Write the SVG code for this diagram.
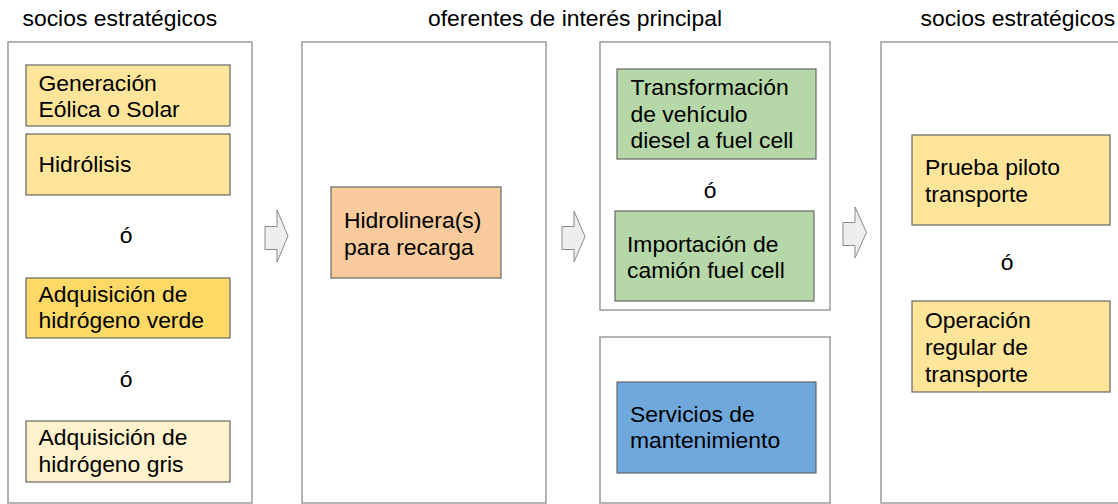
<svg xmlns="http://www.w3.org/2000/svg" width="1118" height="504" viewBox="0 0 1118 504">
<style>
text{font-family:"Liberation Sans",Arial,sans-serif;font-size:22.9px;fill:#000}
.outer{fill:#fff;stroke:#9a9a9a;stroke-width:1.5}
.n{stroke:#666;stroke-width:1.2}
.y{fill:#ffe599}.yv{fill:#ffd966}.yg{fill:#fff2cc}.g{fill:#b6d7a8}.o{fill:#f9cb9c}.b{fill:#6fa8dc}
.arr{fill:#eeeeee;stroke:#8a8a8a;stroke-width:1}
.c{text-anchor:middle}
</style>
<rect width="1118" height="504" fill="#fff"/>
<g id="headers">
<text x="22.5" y="26">socios estratégicos</text>
<text x="575" y="26" class="c">oferentes de interés principal</text>
<text x="920.5" y="26">socios estratégicos</text>
</g>
<g id="col1"><rect class="outer" x="8" y="42" width="244" height="461"/></g>
<g id="col2"><rect class="outer" x="302" y="42" width="244" height="461"/></g>
<g id="col3a"><rect class="outer" x="600" y="42" width="230" height="268"/></g>
<g id="col3b"><rect class="outer" x="600" y="337" width="230" height="166"/></g>
<g id="col4"><rect class="outer" x="881" y="42" width="240" height="461"/></g>
<g id="generacion"><rect class="n y" x="26" y="65" width="204" height="61"/><text x="38.5" y="90.5">Generación</text><text x="38.5" y="117.2">Eólica o Solar</text></g>
<g id="hidrolisis"><rect class="n y" x="26" y="134" width="204" height="61"/><text x="38.5" y="171.5">Hidrólisis</text></g>
<g id="o1"><text x="126" y="243" class="c">ó</text></g>
<g id="verde"><rect class="n yv" x="26" y="278" width="204" height="60"/><text x="38.5" y="301.7">Adquisición de</text><text x="38.5" y="328.3">hidrógeno verde</text></g>
<g id="o2"><text x="126" y="386.7" class="c">ó</text></g>
<g id="gris"><rect class="n yg" x="26" y="421" width="204" height="61"/><text x="38.5" y="445">Adquisición de</text><text x="38.5" y="471.7">hidrógeno gris</text></g>
<g id="hidrolinera"><rect class="n o" x="331" y="187" width="170" height="91"/><text x="344" y="228.3">Hidrolinera(s)</text><text x="344" y="255">para recarga</text></g>
<g id="transformacion"><rect class="n g" x="617" y="69" width="199" height="90"/><text x="630.5" y="95">Transformación</text><text x="630.5" y="121.7">de vehículo</text><text x="630.5" y="148.3">diesel a fuel cell</text></g>
<g id="o3"><text x="710" y="198" class="c">ó</text></g>
<g id="importacion"><rect class="n g" x="615" y="211" width="199" height="90"/><text x="627" y="251.7">Importación de</text><text x="627" y="278.3">camión fuel cell</text></g>
<g id="servicios"><rect class="n b" x="617" y="382" width="199" height="91"/><text x="630" y="421.7">Servicios de</text><text x="630" y="448.3">mantenimiento</text></g>
<g id="prueba"><rect class="n y" x="912" y="135" width="198" height="90"/><text x="925" y="175">Prueba piloto</text><text x="925" y="201.7">transporte</text></g>
<g id="o4"><text x="1007" y="270" class="c">ó</text></g>
<g id="operacion"><rect class="n y" x="912" y="301" width="198" height="91"/><text x="925" y="328.3">Operación</text><text x="925" y="355">regular de</text><text x="925" y="381.7">transporte</text></g>
<g id="connectors">
<path class="arr" d="M265 226.5H277V210L288 236L277 262V249.5H265Z"/>
<path class="arr" d="M562 226.5H574V211L585 236.5L574 262V249.5H562Z"/>
<path class="arr" d="M843 222.5H855V207L866.5 232.5L855 258V245.5H843Z"/>
</g>
</svg>
